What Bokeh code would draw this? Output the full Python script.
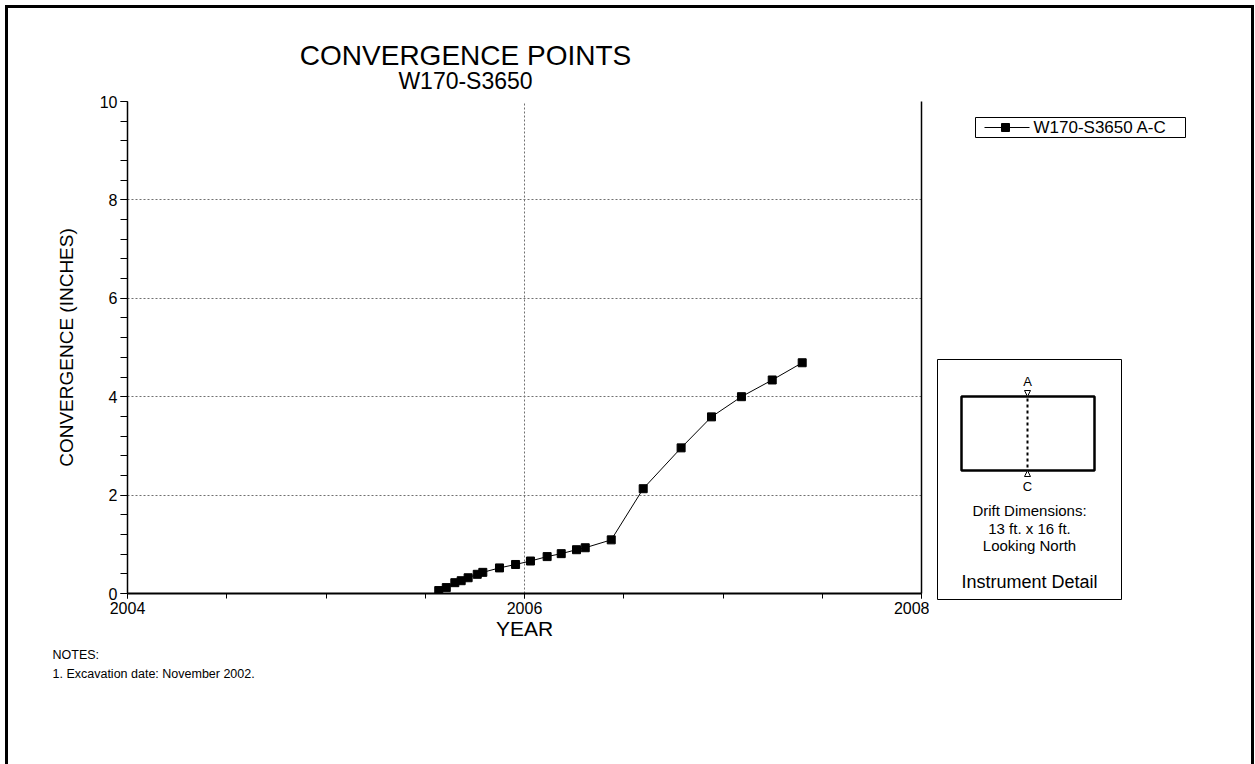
from bokeh.plotting import figure
from bokeh.models import Range1d, SingleIntervalTicker, LinearAxis, Title, Grid
from bokeh.layouts import row, column
from bokeh.core.properties import value
from bokeh.embed import file_html
from bokeh.resources import INLINE

# ---------------- data ----------------
years = [2005.568, 2005.606, 2005.649, 2005.681, 2005.716, 2005.762, 2005.790,
         2005.874, 2005.955, 2006.030, 2006.114, 2006.185, 2006.262, 2006.306,
         2006.437, 2006.598, 2006.789, 2006.942, 2007.093, 2007.248, 2007.399]
convergence = [0.06, 0.12, 0.22, 0.26, 0.32, 0.39, 0.43,
               0.52, 0.59, 0.66, 0.75, 0.81, 0.89, 0.93,
               1.09, 2.13, 2.96, 3.59, 4.00, 4.34, 4.69]
series_name = "W170-S3650 A-C"
title_lines = ["CONVERGENCE POINTS", "W170-S3650"]
x_label = "YEAR"
y_label = "CONVERGENCE (INCHES)"
notes = ["NOTES:", "1. Excavation date: November 2002."]
detail_lines = ["Drift Dimensions:", "13 ft. x 16 ft.", "Looking North"]
detail_title = "Instrument Detail"

FONT = "Liberation Sans"
X0, X1, Y0, Y1 = 2004, 2008, 0, 10

# ---------------- layout (page pixels) ----------------
OX, OY = 8, 8            # where the content starts (inside the page border)
TW, TH = 1243, 85        # title strip
PW, QW = 921, 322        # main figure width, side panel width
PH = 756 - TH            # height of main figure and side panel
PY0 = OY + TH            # page y where main figure starts
FL, FR, FT, FB = 127, 921, 101, 593   # plotting frame on the page

# ---------------- title strip ----------------
t = figure(width=TW, height=TH, output_backend="svg", toolbar_location=None,
           x_range=Range1d(0, TW), y_range=Range1d(TH, 0),
           x_axis_type=None, y_axis_type=None, min_border=0)
t.frame_align = False
t.outline_line_color = None
t.background_fill_color = "white"
t.border_fill_color = "white"
t.grid.visible = False
TITLE_CX = 465
t.text(x=[TITLE_CX - OX], y=[55 - OY], text=[title_lines[0]], text_align="center",
       text_baseline="middle", text_font=value(FONT), text_font_size="28px", text_color="black")
t.text(x=[TITLE_CX - OX], y=[80 - OY], text=[title_lines[1]], text_align="center",
       text_baseline="middle", text_font=value(FONT), text_font_size="23px", text_color="black")

# ---------------- main chart ----------------
p = figure(width=PW, height=PH, output_backend="svg", toolbar_location=None,
           x_range=Range1d(X0, X1), y_range=Range1d(Y0, Y1),
           x_axis_type=None, y_axis_type=None,
           min_border_left=FL - OX, min_border_right=(OX + PW) - FR,
           min_border_top=FT - PY0, min_border_bottom=(PY0 + PH) - FB)
p.frame_align = False
p.outline_line_color = None
p.background_fill_color = "white"
p.border_fill_color = "white"

xaxis = LinearAxis(ticker=SingleIntervalTicker(interval=2, num_minor_ticks=4))
yaxis = LinearAxis(ticker=SingleIntervalTicker(interval=2, num_minor_ticks=5))
for ax in (xaxis, yaxis):
    ax.axis_line_color = "black"
    ax.major_tick_line_color = "black"
    ax.minor_tick_line_color = "black"
    ax.major_tick_in = 0
    ax.minor_tick_in = 0
    ax.major_label_text_color = "black"
    ax.major_label_text_font = FONT
    ax.major_label_text_font_size = "16px"
    ax.axis_label_text_font = FONT
    ax.axis_label_text_font_style = "normal"
    ax.axis_label_text_color = "black"
xaxis.axis_line_width = 2
xaxis.major_tick_out = 5
xaxis.minor_tick_out = 5
xaxis.major_label_standoff = 3
xaxis.axis_label = x_label
xaxis.axis_label_text_font_size = "21px"
xaxis.axis_label_standoff = 0
yaxis.axis_line_width = 1.5
yaxis.major_tick_out = 7
yaxis.minor_tick_out = 7
yaxis.major_label_standoff = 3
yaxis.axis_label = y_label
yaxis.axis_label_text_font_size = "19px"
yaxis.axis_label_standoff = 20
p.add_layout(xaxis, "below")
p.add_layout(yaxis, "left")

raxis = LinearAxis(ticker=SingleIntervalTicker(interval=2, num_minor_ticks=0),
                   major_label_text_font_size="0px", major_label_standoff=0,
                   major_tick_line_color=None, minor_tick_line_color=None,
                   major_tick_out=0, minor_tick_out=0,
                   axis_line_color="black", axis_line_width=1.5)
p.add_layout(raxis, "right")

p.add_layout(Grid(dimension=0, ticker=xaxis.ticker, grid_line_color="#707070", grid_line_dash="2 2"))
p.add_layout(Grid(dimension=1, ticker=yaxis.ticker, grid_line_color="#707070", grid_line_dash="2 2"))

# notes below the x axis
p.add_layout(Title(text=notes[0], align="left", offset=52 - FL,
                   text_font=FONT, text_font_size="12.5px", text_font_style="normal",
                   text_color="black", standoff=6), "below")
p.add_layout(Title(text=notes[1], align="left", offset=52 - FL,
                   text_font=FONT, text_font_size="12.5px", text_font_style="normal",
                   text_color="black", standoff=0), "below")

p.line(years, convergence, line_color="black", line_width=1)
p.scatter(years, convergence, marker="square", size=8, fill_color="black", line_color="black")

# ---------------- side panel: legend and instrument detail ----------------
QX0 = OX + PW
q = figure(width=QW, height=PH, output_backend="svg", toolbar_location=None,
           x_range=Range1d(0, QW), y_range=Range1d(PH, 0),
           x_axis_type=None, y_axis_type=None, min_border=0)
q.frame_align = False
q.outline_line_color = None
q.background_fill_color = "white"
q.border_fill_color = "white"
q.grid.visible = False


def qx(px):
    return px - QX0


def qy(py):
    return py - PY0


# legend
q.quad(left=[qx(975)], right=[qx(1185)], top=[qy(117)], bottom=[qy(137)],
       fill_color="white", line_color="black", line_width=1)
q.segment(x0=[qx(984)], y0=[qy(127)], x1=[qx(1029)], y1=[qy(127)], line_color="black", line_width=1)
q.scatter(x=[qx(1005)], y=[qy(127)], marker="square", size=8, fill_color="black", line_color="black")
q.text(x=[qx(1033)], y=[qy(127)], text=[series_name], text_align="left", text_baseline="middle",
       text_font=value(FONT), text_font_size="17px", text_color="black")

# instrument detail
q.quad(left=[qx(937)], right=[qx(1121)], top=[qy(359)], bottom=[qy(599)],
       fill_color=None, line_color="black", line_width=1)
q.quad(left=[qx(961)], right=[qx(1094)], top=[qy(396)], bottom=[qy(470)],
       fill_color=None, line_color="black", line_width=2.5)
q.segment(x0=[qx(1027)], y0=[qy(398)], x1=[qx(1027)], y1=[qy(468)],
          line_color="black", line_width=2, line_dash="3 3")
q.patches(xs=[[qx(1024), qx(1030), qx(1027)], [qx(1024), qx(1030), qx(1027)]],
          ys=[[qy(390), qy(390), qy(396)], [qy(476), qy(476), qy(470)]],
          fill_color="white", line_color="black", line_width=1)
q.text(x=[qx(1027), qx(1027)], y=[qy(381), qy(486)], text=["A", "C"],
       text_align="center", text_baseline="middle",
       text_font=value(FONT), text_font_size="13px", text_color="black")
q.text(x=[qx(1029)] * 3, y=[qy(510), qy(528), qy(545)], text=detail_lines,
       text_align="center", text_baseline="middle",
       text_font=value(FONT), text_font_size="15px", text_color="black")
q.text(x=[qx(1029)], y=[qy(581)], text=[detail_title],
       text_align="center", text_baseline="middle",
       text_font=value(FONT), text_font_size="18px", text_color="black")

layout = column(t, row(p, q, spacing=0), spacing=0, margin=(5, 0, 0, 5),
                styles={"border-left": "3px solid black", "border-top": "3px solid black",
                        "border-right": "3px solid black"})

open("out.html", "w").write(file_html(layout, INLINE))
